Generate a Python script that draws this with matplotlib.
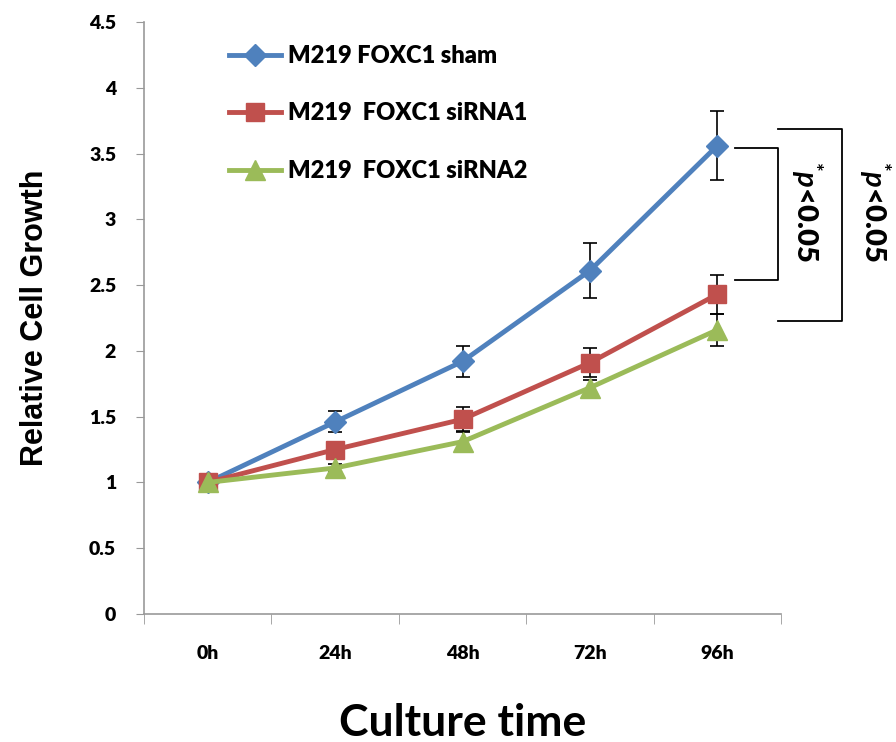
import matplotlib.pyplot as plt
import numpy as np

times = ["0h", "24h", "48h", "72h", "96h"]

sham = [1.0, 1.46, 1.92, 2.61, 3.56]
sham_err = [0.0, 0.08, 0.12, 0.21, 0.26]
sirna1 = [1.0, 1.25, 1.48, 1.91, 2.43]
sirna1_err = [0.0, 0.06, 0.09, 0.11, 0.15]
sirna2 = [1.0, 1.11, 1.31, 1.72, 2.16]
sirna2_err = [0.0, 0.03, 0.07, 0.06, 0.12]

labels = ["M219 FOXC1 sham", "M219  FOXC1 siRNA1", "M219  FOXC1 siRNA2"]
colors = ["#4F81BD", "#C0504D", "#9BBB59"]
markers = ["D", "s", "^"]
msizes = [11, 13, 14]

plt.rcParams["mathtext.fontset"] = "custom"
plt.rcParams["mathtext.it"] = "Lato:bold:italic"
plt.rcParams["mathtext.rm"] = "Lato:bold"

fig = plt.figure(figsize=(8.96, 7.42), dpi=100)
ax = fig.add_axes([0.1607, 0.1725, 0.711, 0.7979])

x = np.arange(len(times))
series = [(sham, sham_err), (sirna1, sirna1_err), (sirna2, sirna2_err)]
for (vals, err), lab, c, m, ms in zip(series, labels, colors, markers, msizes):
    ax.errorbar(x, vals, yerr=err, fmt="none", ecolor="black", elinewidth=1.2,
                capsize=5, capthick=1.2, zorder=2)
    ax.plot(x, vals, color=c, lw=3.5, marker=m, markersize=ms,
            label=lab, zorder=3)

ax.set_xlim(-0.5, 4.5)
ax.set_ylim(0, 4.5)
ax.set_yticks(np.arange(0, 4.6, 0.5))
ax.set_yticklabels(["0", "0.5", "1", "1.5", "2", "2.5", "3", "3.5", "4", "4.5"])
ax.set_xticks(x)
ax.set_xticklabels(times)
ax.set_xticks(np.arange(-0.5, 4.6, 1), minor=True)
ax.tick_params(axis="x", which="major", length=0, pad=22)
ax.tick_params(axis="x", which="minor", length=7, color="#999999")
ax.tick_params(axis="y", length=6, color="#999999", pad=14)

for lab in ax.get_xticklabels() + ax.get_yticklabels():
    lab.set_fontfamily("Lato")
    lab.set_fontweight("heavy")
    lab.set_fontsize(14)

for s in ["top", "right"]:
    ax.spines[s].set_visible(False)
for s in ["left", "bottom"]:
    ax.spines[s].set_color("#999999")
    ax.spines[s].set_linewidth(1.2)

ax.set_ylabel("Relative Cell Growth", fontfamily="Liberation Sans",
              fontweight="bold", fontsize=22, labelpad=28)
ax.set_xlabel("Culture time", fontfamily="Lato", fontweight="bold",
              fontsize=32, labelpad=30)

leg = ax.legend(loc="upper left", bbox_to_anchor=(0.1, 0.997), frameon=False,
                handlelength=2.2, labelspacing=1.5, handletextpad=0.3,
                prop={"family": "Lato", "weight": "heavy", "size": 17})

# significance brackets
kw = dict(color="black", lw=1.3, clip_on=False)
ax.plot([4.14, 4.48, 4.48, 4.14], [3.54, 3.54, 2.54, 2.54], **kw)
ax.plot([4.48, 4.98, 4.98, 4.48], [3.69, 3.69, 2.23, 2.23], **kw)
ax.text(4.70, 3.06, r"$^{*}\mathit{p}$<0.05", rotation=270, ha="center",
        va="center", fontsize=21, fontfamily="Lato", fontweight="heavy")
ax.text(5.23, 3.06, r"$^{*}\mathit{p}$<0.05", rotation=270, ha="center",
        va="center", fontsize=21, fontfamily="Lato", fontweight="heavy")

fig.savefig("out.png", dpi=100)
